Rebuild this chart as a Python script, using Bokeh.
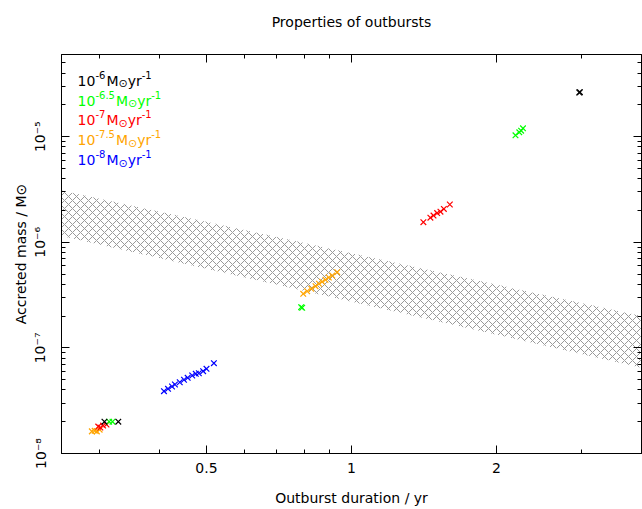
import math
from bokeh.plotting import figure
from bokeh.models import Range1d, FixedTicker, LogAxis, CustomJSTickFormatter, Label
from bokeh.embed import file_html
from bokeh.resources import INLINE

# ---------------- data ----------------
black_x = [0.307, 0.328, 2.97, 2.98]
black_y = [2.0e-8, 2.0e-8, 2.62e-5, 2.64e-5]

green_x = [0.314, 0.319, 0.786, 0.790, 2.19, 2.23, 2.25, 2.27]
green_y = [2.0e-8, 2.0e-8, 2.43e-7, 2.40e-7, 1.03e-5, 1.10e-5, 1.14e-5, 1.20e-5]

red_x = [0.298, 0.301, 0.305, 0.310,
         1.41, 1.458, 1.48, 1.506, 1.53, 1.555, 1.60]
red_y = [1.80e-8, 1.76e-8, 1.84e-8, 1.88e-8,
         1.55e-6, 1.71e-6, 1.79e-6, 1.89e-6, 1.95e-6, 2.07e-6, 2.28e-6]

orange_x = [0.289, 0.293, 0.296, 0.300,
            0.794, 0.809, 0.825, 0.842, 0.856, 0.869, 0.883, 0.897, 0.912, 0.934]
orange_y = [1.62e-8, 1.64e-8, 1.62e-8, 1.68e-8,
            3.25e-7, 3.44e-7, 3.63e-7, 3.84e-7, 4.05e-7, 4.23e-7, 4.42e-7, 4.64e-7, 4.85e-7, 5.21e-7]

blue_x = [0.408, 0.416, 0.424, 0.430, 0.440, 0.449, 0.457, 0.467, 0.475, 0.482, 0.492, 0.500, 0.518]
blue_y = [3.89e-8, 4.10e-8, 4.31e-8, 4.50e-8, 4.73e-8, 4.99e-8, 5.21e-8, 5.48e-8, 5.68e-8,
          5.75e-8, 6.02e-8, 6.34e-8, 7.16e-8]

band_x = [0.25, 4.0]
band_hi = [3.1e-6, 2.0e-7]
band_lo = [1.15e-6, 6.5e-8]

legend_exps = ["-6", "-6.5", "-7", "-7.5", "-8"]
legend_colors = ["black", "#00ff00", "red", "orange", "blue"]

x_major = [0.5, 1, 2]
x_minor = [0.3, 0.4, 0.6, 0.7, 0.8, 0.9, 3]
y_major = [1e-8, 1e-7, 1e-6, 1e-5]
y_minor = [m * 10.0 ** e for e in range(-8, -4) for m in range(2, 10)]

FONT = "DejaVu Sans"

# ---------------- figure ----------------
p = figure(width=642, height=509, x_axis_type="log", y_axis_type="log",
           x_range=Range1d(0.25, 4.0), y_range=Range1d(1e-8, 6e-5),
           output_backend="svg", toolbar_location=None,
           min_border_left=61, min_border_right=1, min_border_top=54, min_border_bottom=56)
p.title.text = "Properties of outbursts\n"
p.title.align = "center"
p.title.text_font = FONT
p.title.text_font_size = "14px"
p.title.text_font_style = "normal"
p.title.text_color = "black"
p.title.standoff = 18

p.xgrid.visible = False
p.ygrid.visible = False
p.outline_line_color = "black"
p.outline_line_width = 1
p.background_fill_color = "white"
p.border_fill_color = "white"

xticker = FixedTicker(ticks=x_major, minor_ticks=x_minor)
yticker = FixedTicker(ticks=y_major, minor_ticks=y_minor)
xfmt = CustomJSTickFormatter(code="return String(tick);")
yfmt = CustomJSTickFormatter(code="""
const sup = {'-':'\u207b','0':'\u2070','1':'\u00b9','2':'\u00b2','3':'\u00b3','4':'\u2074',
             '5':'\u2075','6':'\u2076','7':'\u2077','8':'\u2078','9':'\u2079'};
const e = Math.round(Math.log10(tick));
return '10' + String(e).split('').map(c => sup[c]).join('');
""")
blankfmt = CustomJSTickFormatter(code="return '';")

def style_axis(ax, ticker, labels=True):
    ax.ticker = ticker
    ax.major_tick_in = 8
    ax.major_tick_out = 0
    ax.minor_tick_in = 4
    ax.minor_tick_out = 0
    ax.axis_line_color = "black"
    ax.major_tick_line_color = "black"
    ax.minor_tick_line_color = "black"
    ax.major_label_text_font = FONT
    ax.major_label_text_font_size = "14px" if labels else "2px"
    ax.major_label_text_color = "black"
    ax.axis_label_text_font = FONT
    ax.axis_label_text_font_size = "14px"
    ax.axis_label_text_font_style = "normal"
    ax.axis_label_text_color = "black"

xa = p.xaxis[0]
style_axis(xa, xticker)
xa.formatter = xfmt
xa.major_label_standoff = 9
xa.axis_label = "Outburst duration / yr"
xa.axis_label_standoff = 14

ya = p.yaxis[0]
style_axis(ya, yticker)
ya.formatter = yfmt
ya.major_label_orientation = "vertical"
ya.major_label_standoff = 13
ya.axis_label = "Accreted mass / M\u2299"
ya.axis_label_standoff = 1

top = LogAxis(formatter=blankfmt)
style_axis(top, FixedTicker(ticks=x_major, minor_ticks=x_minor), labels=False)
top.major_label_standoff = 0
p.add_layout(top, "above")
right = LogAxis(formatter=blankfmt)
style_axis(right, FixedTicker(ticks=y_major, minor_ticks=y_minor), labels=False)
right.major_label_standoff = 0
p.add_layout(right, "right")

# hatched band
p.varea(x=band_x, y1=band_lo, y2=band_hi, fill_alpha=0,
        hatch_pattern="diagonal_cross", hatch_color="#999999", hatch_scale=8, hatch_weight=1)

for xs, ys, c in [(blue_x, blue_y, "blue"), (orange_x, orange_y, "orange"),
                  (red_x, red_y, "red"), (green_x, green_y, "#00ff00"),
                  (black_x, black_y, "black")]:
    p.scatter(xs, ys, marker="x", size=8, line_color=c, line_width=1.2)

# legend (text built from pieces so that super/subscripts look right)
LX = 0.27
leg_y = [3.4e-5, 2.2e-5, 1.43e-5, 9.3e-6, 6.0e-6]
BASE, SMALL = 14, 10
W = {"-": 0.361, ".": 0.318}

def width(s, size):
    return sum(W.get(ch, 0.636) for ch in s) * size

for ex, col, yy in zip(legend_exps, legend_colors, leg_y):
    pieces = [("10", BASE, 0, 2 * 0.636 * BASE),
              (ex, SMALL, 6, width(ex, SMALL) + 1),
              ("M", BASE, 0, 0.863 * BASE),
              ("\u2299", SMALL + 1, -3, 0.838 * (SMALL + 1)),
              ("yr", BASE, 0, (0.592 + 0.411) * BASE),
              ("-1", SMALL, 6, width("-1", SMALL))]
    off = 0.0
    for txt, sz, dy, w in pieces:
        p.add_layout(Label(x=LX, y=yy, x_offset=off, y_offset=dy, text=txt,
                           text_font=FONT, text_font_size=f"{sz}px", text_color=col,
                           text_baseline="alphabetic", text_align="left"))
        off += w

open("out.html", "w").write(file_html(p, INLINE))
